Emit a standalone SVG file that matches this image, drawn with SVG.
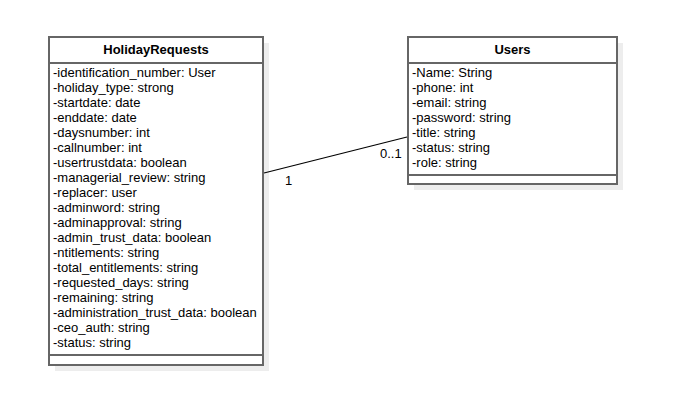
<svg xmlns="http://www.w3.org/2000/svg" width="691" height="412" viewBox="0 0 691 412">
<style>
text{font-family:"Liberation Sans",Arial,sans-serif;font-size:13px;fill:#000}
.t{font-weight:bold;text-anchor:middle}
.box{fill:#fff;stroke:#666;stroke-width:2}
.sh{fill:#000;opacity:0.07}
.ln{stroke:#666;stroke-width:2;fill:none}
</style>
<rect width="691" height="412" fill="#fff"/>
<g id="HolidayRequests">
<rect class="sh" x="55" y="43" width="214" height="328"/>
<rect class="box" x="49" y="37" width="214" height="328"/>
<line class="ln" x1="49" y1="63" x2="263" y2="63"/>
<line class="ln" x1="49" y1="355" x2="263" y2="355"/>
<text class="t" x="156" y="54">HolidayRequests</text>
<text x="53" y="77">-identification_number: User</text>
<text x="53" y="92">-holiday_type: strong</text>
<text x="53" y="107">-startdate: date</text>
<text x="53" y="122">-enddate: date</text>
<text x="53" y="137">-daysnumber: int</text>
<text x="53" y="152">-callnumber: int</text>
<text x="53" y="167">-usertrustdata: boolean</text>
<text x="53" y="182">-managerial_review: string</text>
<text x="53" y="197">-replacer: user</text>
<text x="53" y="212">-adminword: string</text>
<text x="53" y="227">-adminapproval: string</text>
<text x="53" y="242">-admin_trust_data: boolean</text>
<text x="53" y="257">-ntitlements: string</text>
<text x="53" y="272">-total_entitlements: string</text>
<text x="53" y="287">-requested_days: string</text>
<text x="53" y="302">-remaining: string</text>
<text x="53" y="317">-administration_trust_data: boolean</text>
<text x="53" y="332">-ceo_auth: string</text>
<text x="53" y="347">-status: string</text>
</g>
<g id="Users">
<rect class="sh" x="414" y="43" width="209" height="147"/>
<rect class="box" x="408" y="37" width="209" height="147"/>
<line class="ln" x1="408" y1="63" x2="617" y2="63"/>
<line class="ln" x1="408" y1="175" x2="617" y2="175"/>
<text class="t" x="512.5" y="54">Users</text>
<text x="412" y="77">-Name: String</text>
<text x="412" y="92">-phone: int</text>
<text x="412" y="107">-email: string</text>
<text x="412" y="122">-password: string</text>
<text x="412" y="137">-title: string</text>
<text x="412" y="152">-status: string</text>
<text x="412" y="167">-role: string</text>
</g>
<g id="connectors">
<line x1="264" y1="173" x2="407" y2="137" stroke="#000" stroke-width="1.2"/>
<text x="285" y="185">1</text>
<text x="380" y="158">0..1</text>
</g>
</svg>
